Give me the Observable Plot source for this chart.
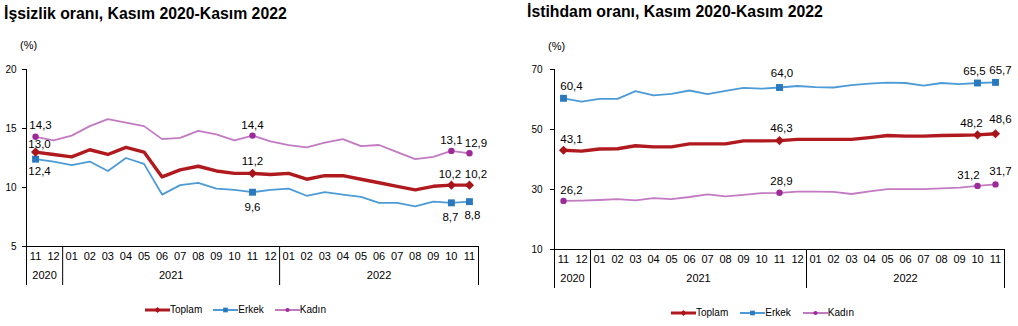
<!DOCTYPE html>
<html><head><meta charset="utf-8">
<script src="https://cdn.jsdelivr.net/npm/d3@7"></script>
<script src="https://cdn.jsdelivr.net/npm/@observablehq/plot@0.6"></script>
<style>
body{margin:0;background:#fff;}
#root{position:relative;width:1018px;height:326px;overflow:hidden;font-family:Arial,"Liberation Sans",sans-serif;color:#000;background:#fff;}
.title{position:absolute;font-weight:bold;font-size:15.8px;line-height:1;white-space:nowrap;}
.unit{position:absolute;font-size:11px;line-height:1;}
.pane{position:absolute;top:30px;}
.legend{position:absolute;display:flex;align-items:center;font-size:10px;height:12px;line-height:1;}
.item{display:flex;align-items:center;}
.item svg{display:block;}
</style></head>
<body><div id="root">
<div class="pane" id="left" style="left:0"></div>
<div class="pane" id="right" style="left:509px"></div>
<div class="title" style="left:4px;top:6px">İşsizlik oranı, Kasım 2020-Kasım 2022</div>
<div class="title" style="left:527px;top:4px">İstihdam oranı, Kasım 2020-Kasım 2022</div>
<div class="unit" style="left:20px;top:40px">(%)</div>
<div class="unit" style="left:548px;top:41px">(%)</div>
<div class="legend" id="legL" style="left:145px;top:304px;gap:11px"></div>
<div class="legend" id="legR" style="left:671px;top:307px;gap:12px"></div>
</div>
<script>
// ---- data ----
const months = ["11","12","01","02","03","04","05","06","07","08","09","10","11","12","01","02","03","04","05","06","07","08","09","10","11"];
const years = ["2020","2021","2022"];
const monthsPerYear = [2, 12, 11];
const seriesNames = ["Toplam","Erkek","Kadın"];

const unempToplam = [13.0,12.8,12.6,13.2,12.8,13.4,13.0,10.9,11.5,11.8,11.4,11.2,11.2,11.1,11.2,10.7,11.0,11.0,10.7,10.4,10.1,9.8,10.1,10.2,10.2];
const unempErkek  = [12.4,12.2,11.9,12.2,11.4,12.5,12.0,9.4,10.2,10.4,9.9,9.8,9.6,9.8,9.9,9.3,9.6,9.4,9.2,8.7,8.7,8.4,8.8,8.7,8.8];
const unempKadin  = [14.3,14.0,14.4,15.2,15.8,15.5,15.2,14.1,14.2,14.8,14.5,14.0,14.4,13.9,13.6,13.4,13.8,14.1,13.5,13.6,13.0,12.4,12.6,13.1,12.9];

const empToplam = [43.1,42.8,43.5,43.6,44.6,44.2,44.2,45.2,45.2,45.2,46.2,46.2,46.3,46.7,46.7,46.7,46.7,47.3,48.0,47.8,47.8,48.0,48.1,48.2,48.6];
const empErkek  = [60.4,59.3,60.2,60.2,62.8,61.4,61.9,63.0,61.8,62.9,63.9,63.6,64.0,64.5,64.1,64.0,64.8,65.3,65.6,65.5,64.6,65.5,65.1,65.5,65.7];
const empKadin  = [26.2,26.3,26.5,26.8,26.4,27.1,26.8,27.5,28.4,27.7,28.2,28.8,28.9,29.3,29.3,29.2,28.5,29.4,30.1,30.1,30.1,30.4,30.6,31.2,31.7];

const labelIdx = [0, 12, 23, 24];
const unempTicks = [5, 10, 15, 20];
const empTicks = [10, 30, 50, 70];

// ---- styles ----
const colors = {
  Toplam: {line: "#B0191E", mark: "#A8141A", width: 3.4, symbol: "diamond2", r: 4.1},
  Erkek:  {line: "#4D9BD6", mark: "#2A79BF", width: 1.8, symbol: "square", r: 3.9},
  Kadın:  {line: "#C27AC2", mark: "#9C2A98", width: 1.8, symbol: "circle", r: 3.2}
};

const fmt = v => d3.format(".1f")(v).replace(".", ",");

// derived
const boundaries = [];
{ let c = 0; monthsPerYear.forEach(n => { c += n; boundaries.push(c - 0.5); }); }
const yearRows = [];
{ let c = 0; years.forEach((y, k) => { yearRows.push({year: y, mid: c + (monthsPerYear[k] - 1) / 2}); c += monthsPerYear[k]; }); }

function makeChart(cfg) {
  const marks = [];
  const base = cfg.yDomain[0];
  marks.push(Plot.ruleY([base], {stroke: "#000", strokeWidth: 1}));
  marks.push(Plot.ruleX([-0.5], {stroke: "#000", strokeWidth: 1, insetBottom: -39}));
  marks.push(Plot.ruleX(boundaries, {y1: base, y2: base, stroke: "#000", strokeWidth: 1, insetBottom: -39}));
  marks.push(Plot.axisY({ticks: cfg.ticks, tickSize: 4, tickPadding: cfg.tickPad, fontSize: 10, tickFormat: d => String(d), label: null, stroke: "#000"}));
  marks.push(Plot.text(months, {x: (d, i) => i, text: d => d, frameAnchor: "bottom", dy: 13, fontSize: 11, fill: "#000"}));
  marks.push(Plot.text(yearRows, {x: "mid", text: "year", frameAnchor: "bottom", dy: 32, fontSize: 11, fill: "#000"}));
  const order = ["Erkek", "Kadın", "Toplam"];
  order.forEach(name => {
    const vals = cfg.series[name];
    const rows = vals.map((v, i) => ({i, v}));
    const st = colors[name];
    marks.push(Plot.line(rows, {x: "i", y: "v", stroke: st.line, strokeWidth: st.width, strokeLinejoin: "round"}));
  });
  order.forEach(name => {
    const vals = cfg.series[name];
    const st = colors[name];
    const pts = labelIdx.map(i => ({i, v: vals[i]}));
    marks.push(Plot.dot(pts, {x: "i", y: "v", symbol: st.symbol, r: st.r, fill: st.mark, stroke: "none"}));
    pts.forEach((p, k) => {
      const off = cfg.offsets[name][k];
      marks.push(Plot.text([p], {x: "i", y: "v", text: d => fmt(d.v), dx: off[0], dy: off[1], fontSize: 11.5, fill: "#000"}));
    });
  });
  return Plot.plot({
    width: 509,
    height: 270,
    marginTop: cfg.mt,
    marginBottom: cfg.mb,
    marginLeft: cfg.ml,
    marginRight: cfg.mr,
    x: {type: "linear", domain: [-0.5, months.length - 0.5], axis: null},
    y: {domain: cfg.yDomain, axis: null},
    style: {fontFamily: "Arial, 'Liberation Sans', sans-serif", color: "#000", background: "transparent", overflow: "visible"},
    marks
  });
}

const left = makeChart({
  series: {Toplam: unempToplam, Erkek: unempErkek, Kadın: unempKadin},
  yDomain: [5, 20], ticks: unempTicks, tickPad: 6,
  mt: 39, mb: 54, ml: 26, mr: 31,
  offsets: {
    Toplam: [[4, -8], [0, -12], [-1.5, -11], [6.5, -11]],
    Erkek:  [[4, 12], [0, 15], [-1, 14], [3, 14]],
    Kadın:  [[5, -11.5], [0, -10], [0, -10.5], [6.5, -10]]
  }
});
document.getElementById("left").appendChild(left);

const right = makeChart({
  series: {Toplam: empToplam, Erkek: empErkek, Kadın: empKadin},
  yDomain: [10, 70], ticks: empTicks, tickPad: 8,
  mt: 39, mb: 51, ml: 45, mr: 14,
  offsets: {
    Toplam: [[8, -11], [2, -12], [-6, -12], [5, -14]],
    Erkek:  [[8, -12], [2.5, -14.5], [-3, -11.5], [5, -12]],
    Kadın:  [[8, -11], [2, -11], [-9, -11], [5, -13]]
  }
});
document.getElementById("right").appendChild(right);

// legends
function swatch(name) {
  const st = colors[name];
  const ns = "http://www.w3.org/2000/svg";
  const svg = document.createElementNS(ns, "svg");
  svg.setAttribute("width", 25); svg.setAttribute("height", 12);
  const ln = document.createElementNS(ns, "line");
  ln.setAttribute("x1", 0); ln.setAttribute("x2", 25); ln.setAttribute("y1", 6); ln.setAttribute("y2", 6);
  ln.setAttribute("stroke", st.line); ln.setAttribute("stroke-width", name === "Toplam" ? 3 : 2);
  svg.appendChild(ln);
  const sym = {diamond2: d3.symbolDiamond2, square: d3.symbolSquare, circle: d3.symbolCircle}[st.symbol];
  const p = document.createElementNS(ns, "path");
  p.setAttribute("d", d3.symbol(sym, name === "Kadın" ? 14 : 22)());
  p.setAttribute("transform", "translate(12.5,6)");
  p.setAttribute("fill", st.mark);
  svg.appendChild(p);
  return svg;
}
["legL", "legR"].forEach(id => {
  const el = document.getElementById(id);
  seriesNames.forEach(name => {
    const it = document.createElement("div");
    it.className = "item";
    it.appendChild(swatch(name));
    const t = document.createElement("span");
    t.textContent = name;
    it.appendChild(t);
    el.appendChild(it);
  });
});
</script>
</body></html>
